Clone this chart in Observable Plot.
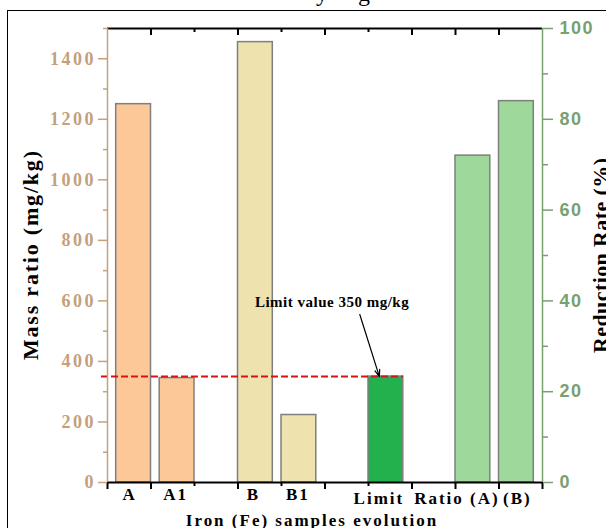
<!DOCTYPE html>
<html><head><meta charset="utf-8">
<script src="https://cdn.jsdelivr.net/npm/d3@7"></script>
<script src="https://cdn.jsdelivr.net/npm/@observablehq/plot@0.6"></script>
<style>
html,body{margin:0;padding:0;background:#fff;overflow:hidden}
#wrap{position:relative;width:606px;height:528px;overflow:hidden}
#border{position:absolute;left:7px;top:10px;width:700px;height:600px;border-left:1.5px solid #000;border-top:1.5px solid #000;pointer-events:none}
#wrap svg{position:absolute;left:0;top:0}
</style></head><body><div id="wrap"><div id="border"></div></div>
<script>
// ---- data ----
const categories = ["A", "A1", "B", "B1", "Limit", "Ratio (A)", "(B)"];
const slots = [0, 1, 3, 4, 6, 8, 9];                 // category slot on the x axis
const massValues = [1250, 345, 1455, 223, 350];      // A, A1, B, B1, Limit (mg/kg)
const reductionRates = [72, 84];                     // Ratio (A), (B)  (%)
const limitValue = 350;
const massTicks = [0, 200, 400, 600, 800, 1000, 1200, 1400];
const rateTicks = [0, 20, 40, 60, 80, 100];
const xTitle = "Iron (Fe) samples evolution";
const yTitle = "Mass ratio (mg/kg)";
const y2Title = "Reduction Rate (%)";
const limitNote = "Limit value 350 mg/kg";

// ---- styles ----
const barColors = ["#fdc897", "#fdc897", "#eee2ae", "#eee2ae", "#22b14c", "#9fd89b", "#9fd89b"];
const tan = "#c4a07c";
const sage = "#78a070";
const serif = "Liberation Serif, Times New Roman, serif";
const sans = "Liberation Sans, Arial, sans-serif";
const labelNudgePx = [-5, -2.5, -3, -2, -8, -17, 0];

const yMax = 1500;
const k = yMax / 100; // maps % onto the mass scale
const pxPerX = (606 - 107 - 64) / 10;

const bars = categories.map((c, i) => {
  const off = i < 2 ? 0.2 : 0;
  const x1 = slots[i] + off;
  return {
    cat: c,
    x1,
    x2: x1 + 0.8,
    y: i < massValues.length ? massValues[i] : reductionRates[i - massValues.length] * k,
    fill: barColors[i],
    lx: x1 + 0.4 + labelNudgePx[i] / pxPerX,
    low: i >= 4
  };
});
const limitBar = bars[4];

const massMinor = d3.range(100, yMax + 1, 200);
const rateMinor = d3.range(10, 100, 20).map(v => v * k);
const xMajor = [1, 3, 5, 7, 8, 9];
const xMinor = [2, 4, 6];

const tipX = limitBar.x1 + 0.25;
const arrowData = [{x1: tipX - 0.45, y1: limitValue + 205, x2: tipX, y2: limitValue}];

const catText = {x: "lx", y: 0, text: "cat", lineAnchor: "bottom",
  fontFamily: serif, fontWeight: "bold", fontSize: 17, fill: "#000"};

const chart = Plot.plot({
  width: 606, height: 528,
  marginLeft: 107, marginRight: 64, marginTop: 28, marginBottom: 46,
  x: {domain: [0, 10], axis: null},
  y: {domain: [0, yMax], axis: null},
  color: {type: "identity"},
  style: {background: "transparent", overflow: "visible"},
  marks: [
    Plot.rect(bars, {x1: "x1", x2: "x2", y1: 0, y2: "y", fill: "fill", stroke: "#7f7f7f", strokeWidth: 1.5}),
    Plot.ruleY([limitValue], {x1: 0, x2: limitBar.x2, insetLeft: -6, stroke: "#dd1111", strokeWidth: 2, strokeDasharray: "7,3"}),
    Plot.arrow(arrowData, {x1: "x1", y1: "y1", x2: "x2", y2: "y2", stroke: "#000", strokeWidth: 1.2, headLength: 9, headAngle: 40}),
    Plot.text([limitNote], {text: d => d, x: arrowData[0].x1, y: arrowData[0].y1, dx: -28, dy: -8, lineAnchor: "bottom",
      fontFamily: serif, fontWeight: "bold", fontSize: 15, fill: "#000"}),
    // frame top/bottom lines
    Plot.ruleY([0, yMax], {stroke: "#000", strokeWidth: 2}),
    // top inward ticks
    Plot.axisX(xMajor, {anchor: "bottom", frameAnchor: "top", tickSize: 7, strokeWidth: 2, tickFormat: () => "", label: null, color: "#000"}),
    Plot.axisX(xMinor, {anchor: "bottom", frameAnchor: "top", tickSize: 4, strokeWidth: 2, tickFormat: () => "", label: null, color: "#000"}),
    // bottom outward ticks
    Plot.axisX([0, ...xMajor, 10], {anchor: "bottom", tickSize: 7, strokeWidth: 2, tickFormat: () => "", label: null, color: "#000"}),
    Plot.axisX(xMinor, {anchor: "bottom", tickSize: 4, strokeWidth: 2, tickFormat: () => "", label: null, color: "#000"}),
    // left axis
    Plot.axisY(massTicks, {anchor: "left", tickSize: 9, tickPadding: 5, strokeWidth: 1.5, color: tan,
      tickFormat: d => String(d), fontFamily: serif, fontWeight: "bold", fontSize: 18, label: null}),
    Plot.axisY(massMinor, {anchor: "left", tickSize: 4, strokeWidth: 1.5, color: tan, tickFormat: () => "", label: null}),
    Plot.ruleX([0], {stroke: tan, strokeWidth: 1.5}),
    // right axis
    Plot.axisY(rateTicks.map(v => v * k), {anchor: "right", tickSize: 10, tickPadding: 7, strokeWidth: 1.5, color: sage,
      tickFormat: d => String(Math.round(d / k)), fontFamily: sans, fontWeight: "bold", fontSize: 18, label: null}),
    Plot.axisY(rateMinor, {anchor: "right", tickSize: 5, strokeWidth: 1.5, color: sage, tickFormat: () => "", label: null}),
    Plot.ruleX([10], {stroke: sage, strokeWidth: 1.5}),
    // category labels (two rows, as in the reference)
    Plot.text(bars.filter(d => !d.low), {...catText, dy: 17}),
    Plot.text(bars.filter(d => d.low), {...catText, dy: 21.5}),
    // titles
    Plot.text([xTitle], {text: d => d, frameAnchor: "bottom", dx: -14, dy: 43, lineAnchor: "bottom", textAnchor: "middle",
      fontFamily: serif, fontWeight: "bold", fontSize: 17, fill: "#000"}),
    Plot.text([yTitle], {text: d => d, frameAnchor: "left", dx: -70, rotate: -90, lineAnchor: "bottom", textAnchor: "middle",
      fontFamily: serif, fontWeight: "bold", fontSize: 22, fill: "#000"}),
    Plot.text([y2Title], {text: d => d, frameAnchor: "right", dx: 65, rotate: -90, lineAnchor: "bottom", textAnchor: "middle",
      fontFamily: serif, fontWeight: "bold", fontSize: 22, fill: "#000"}),
    // clipped caption above the figure (only descenders visible)
    Plot.text(["y\u00A0\u00A0\u00A0\u00A0\u00A0g"], {text: d => d, frameAnchor: "top", dx: 18, dy: -28, lineAnchor: "bottom",
      fontFamily: serif, fontSize: 24, fill: "#000"})
  ]
});
document.getElementById("wrap").appendChild(chart);

// widen letter spacing of selected texts (spacing in px between glyphs)
const spacingFor = t => {
  if (categories.includes(t)) return 2;
  if (t === xTitle) return 2;
  if (t === yTitle) return 1.8;
  if (t === y2Title) return 0.4;
  if (t === limitNote) return 0.5;
  if (massTicks.map(String).includes(t)) return 2.5;
  if (rateTicks.map(String).includes(t)) return 1.5;
  return 0;
};
d3.select(chart).selectAll("text").each(function() {
  const t = this.textContent;
  const sp = spacingFor(t);
  if (!sp || t.length < 2) return;
  const w = this.getComputedTextLength();
  this.setAttribute("textLength", w + sp * (t.length - 1));
  this.setAttribute("lengthAdjust", "spacing");
});
</script></body></html>
